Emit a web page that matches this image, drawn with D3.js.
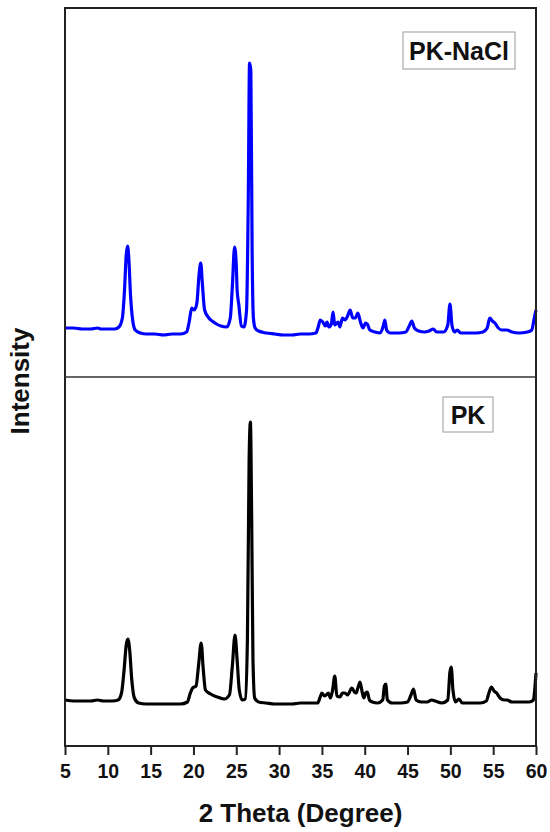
<!DOCTYPE html>
<html>
<head>
<meta charset="utf-8">
<script src="https://cdn.jsdelivr.net/npm/d3@7"></script>
<style>
  body { margin: 0; background: #fff; }
  svg text { font-family: "Liberation Sans", Arial, sans-serif; font-weight: bold; fill: #111; }
</style>
</head>
<body>
<div id="chart"></div>
<script>
'use strict';

// x axis ticks (2 theta, degrees)
var xTicks = [5, 10, 15, 20, 25, 30, 35, 40, 45, 50, 55, 60];

// PK-NaCl pattern (top panel), arbitrary counts
var pkNaClTheta = [5.0, 6.0, 7.0, 8.0, 8.8, 9.2, 10.0, 10.8, 11.3, 11.7, 11.95, 12.15, 12.3, 12.45, 12.65, 12.9,
  13.2, 13.8, 14.5, 15.5, 16.5, 17.5, 18.5, 19.2, 19.5, 19.8, 20.1, 20.4, 20.65, 20.85, 21.05, 21.3,
  21.8, 22.5, 23.2, 23.9, 24.3, 24.55, 24.8, 25.0, 25.1, 25.3, 25.6, 25.9, 26.2, 26.4, 26.55, 26.7,
  26.85, 27.0, 27.2, 27.6, 28.5, 29.5, 30.5, 31.5, 32.5, 33.5, 34.3, 34.6, 34.8, 35.1, 35.4, 35.6,
  35.8, 36.1, 36.3, 36.5, 36.9, 37.1, 37.4, 37.7, 38.0, 38.3, 38.6, 38.9, 39.2, 39.5, 39.8, 40.1,
  40.3, 40.6, 41.2, 41.8, 42.2, 42.35, 42.55, 43.0, 44.0, 44.8, 45.2, 45.5, 45.8, 46.3, 47.0, 47.5,
  48.0, 48.4, 49.2, 49.7, 49.95, 50.2, 50.5, 50.8, 51.2, 52.0, 53.0, 53.8, 54.3, 54.6, 54.9, 55.2,
  55.6, 56.0, 56.6, 57.2, 58.0, 59.0, 59.5, 59.8, 60.0];
var pkNaClCounts = [490, 490, 480, 480, 490, 480, 480, 480, 500, 590, 870, 1220, 1310, 1190, 820, 570,
  470, 440, 430, 430, 420, 430, 430, 450, 550, 690, 670, 740, 1020, 1140, 920, 670,
  590, 540, 510, 500, 590, 920, 1300, 1120, 870, 720, 510, 500, 670, 1770, 3140, 3070,
  1270, 590, 490, 460, 440, 430, 420, 420, 430, 430, 440, 510, 570, 550, 510, 550,
  500, 530, 650, 520, 550, 500, 590, 570, 610, 670, 590, 590, 640, 550, 490, 540,
  530, 470, 450, 440, 520, 570, 470, 440, 440, 450, 510, 560, 490, 460, 450, 460,
  480, 450, 450, 520, 730, 510, 450, 470, 440, 440, 440, 450, 490, 590, 560, 540,
  490, 470, 470, 450, 440, 450, 470, 590, 670];

// PK pattern (bottom panel)
var pkTheta = [5.0, 6.0, 7.0, 8.0, 8.8, 9.5, 10.5, 11.2, 11.6, 11.9, 12.15, 12.35, 12.55, 12.8, 13.1, 13.6,
  14.5, 15.5, 16.5, 17.5, 18.5, 19.3, 19.6, 19.9, 20.3, 20.6, 20.9, 21.15, 21.4, 22.0, 22.8, 23.6,
  24.2, 24.55, 24.85, 25.1, 25.35, 25.7, 26.05, 26.3, 26.5, 26.65, 26.8, 26.95, 27.15, 27.6, 28.5, 29.5,
  30.5, 31.5, 32.5, 33.5, 34.5, 34.8, 35.0, 35.3, 35.5, 35.75, 36.0, 36.25, 36.5, 36.75, 37.1, 37.4,
  37.7, 38.0, 38.5, 38.8, 39.0, 39.2, 39.45, 39.7, 39.9, 40.1, 40.3, 40.55, 40.9, 41.5, 42.1, 42.3,
  42.45, 42.65, 43.2, 44.2, 45.0, 45.4, 45.7, 46.0, 46.6, 47.3, 47.8, 48.2, 49.0, 49.7, 49.95, 50.1,
  50.3, 50.6, 51.0, 51.4, 52.5, 53.5, 54.2, 54.5, 54.8, 55.1, 55.4, 55.8, 56.3, 56.6, 57.2, 58.2,
  59.2, 59.7, 59.85, 60.0];
var pkCounts = [460, 450, 450, 450, 460, 450, 450, 460, 530, 760, 1010, 1070, 960, 660, 480, 430,
  420, 420, 420, 420, 420, 440, 520, 580, 600, 810, 1030, 760, 560, 520, 490, 470,
  510, 810, 1110, 860, 560, 460, 470, 1060, 2860, 3240, 2260, 860, 480, 440, 430, 420,
  420, 420, 430, 430, 430, 490, 530, 500, 510, 530, 480, 560, 700, 500, 490, 530,
  530, 510, 580, 540, 530, 580, 640, 540, 480, 530, 540, 460, 440, 430, 460, 600,
  620, 460, 430, 430, 440, 510, 570, 460, 440, 440, 460, 450, 430, 460, 740, 790,
  560, 440, 470, 430, 430, 430, 450, 530, 590, 550, 530, 480, 460, 460, 440, 440,
  440, 460, 560, 730];

var panelLabels = ['PK-NaCl', 'PK'];

function toPoints(theta, counts) {
  return theta.map(function(t, i) { return { theta: t, count: counts[i] }; });
}

function makeXrdChart(containerSelector) {
  var width = 550;
  var height = 832;
  var left = 65, right = 536, top = 8, bottom = 746;
  var mid = (top + bottom) / 2;

  var svg = d3.select(containerSelector)
              .append('svg')
              .attr('width', width)
              .attr('height', height);

  var x = d3.scaleLinear().domain([5, 60]).range([left, right]);
  var yTop = d3.scaleLinear().domain([0, 3690]).range([mid, top]);
  var yBot = d3.scaleLinear().domain([0, 3690]).range([bottom, mid]);

  var panels = [
    { data: toPoints(pkNaClTheta, pkNaClCounts), y: yTop, colour: '#0000ff', label: panelLabels[0],
      box: { x: 403, y: 32, w: 112, h: 37 } },
    { data: toPoints(pkTheta, pkCounts), y: yBot, colour: '#000000', label: panelLabels[1],
      box: { x: 443, y: 397, w: 50, h: 35 } }
  ];

  panels.forEach(function(p) {
    var line = d3.line()
                 .x(function(d) { return x(d.theta); })
                 .y(function(d) { return p.y(d.count); })
                 .curve(d3.curveMonotoneX);

    svg.append('path')
       .datum(p.data)
       .attr('d', line)
       .attr('fill', 'none')
       .attr('stroke', p.colour)
       .attr('stroke-width', 3.2)
       .attr('stroke-linejoin', 'round');

    svg.append('rect')
       .attr('x', p.box.x)
       .attr('y', p.box.y)
       .attr('width', p.box.w)
       .attr('height', p.box.h)
       .attr('fill', '#fff')
       .attr('stroke', '#999')
       .attr('stroke-width', 1);

    svg.append('text')
       .attr('x', p.box.x + p.box.w / 2)
       .attr('y', p.box.y + p.box.h / 2 + 9)
       .attr('text-anchor', 'middle')
       .style('font-size', '25px')
       .text(p.label);
  });

  // frame and divider
  svg.append('rect')
     .attr('x', left)
     .attr('y', top)
     .attr('width', right - left)
     .attr('height', bottom - top)
     .attr('fill', 'none')
     .attr('stroke', '#222')
     .attr('stroke-width', 2);

  svg.append('line')
     .attr('x1', left)
     .attr('x2', right)
     .attr('y1', mid)
     .attr('y2', mid)
     .attr('stroke', '#333')
     .attr('stroke-width', 1.5);

  var xAxis = d3.axisBottom(x)
                .tickValues(xTicks)
                .tickSize(9)
                .tickSizeOuter(0)
                .tickPadding(9);

  var gx = svg.append('g')
              .attr('transform', 'translate(0,' + bottom + ')')
              .call(xAxis);
  gx.select('.domain').remove();
  gx.selectAll('.tick line').attr('stroke', '#222').attr('stroke-width', 2);
  gx.selectAll('.tick text')
    .style('font-size', '19.5px')
    .style('font-family', '"Liberation Sans", Arial, sans-serif')
    .style('font-weight', 'bold')
    .attr('fill', '#111');

  svg.append('text')
     .attr('x', (left + right) / 2)
     .attr('y', 822)
     .attr('text-anchor', 'middle')
     .style('font-size', '26px')
     .text('2 Theta (Degree)');

  svg.append('text')
     .attr('transform', 'translate(29,' + (mid + 4) + ') rotate(-90)')
     .attr('text-anchor', 'middle')
     .style('font-size', '26px')
     .text('Intensity');
}

makeXrdChart('#chart');
</script>
</body>
</html>
